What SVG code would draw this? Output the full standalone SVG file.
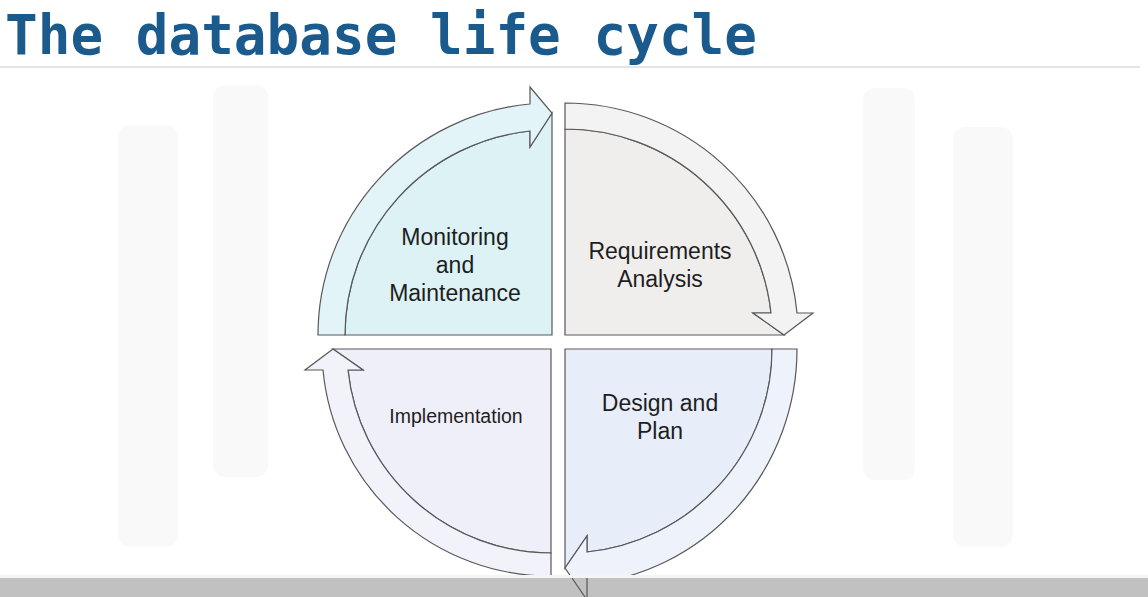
<svg xmlns="http://www.w3.org/2000/svg" width="1148" height="597" viewBox="0 0 1148 597">
  <style>
    .title { font-family: "DejaVu Sans Mono", "Liberation Mono", monospace; font-weight: bold; font-size: 55px; fill: #1b5a8c; }
    .lbl { font-family: "Liberation Sans", Arial, sans-serif; font-size: 23px; fill: #1e1e1e; text-anchor: middle; }
    .lbl-sm { font-size: 19.5px; }
    .edge { stroke: #585858; stroke-width: 1.2; stroke-linejoin: miter; }
    .wm { fill: #f9f9fa; }
  </style>

  <rect width="1148" height="597" fill="#ffffff"/>

  <!-- faint background emblem -->
  <g id="emblem">
    <rect class="wm" x="118" y="125" width="60" height="422" rx="12"/>
    <rect class="wm" x="213" y="85" width="55" height="392" rx="12"/>
    <rect class="wm" x="863" y="88" width="52" height="392" rx="12"/>
    <rect class="wm" x="953" y="127" width="60" height="420" rx="12"/>
  </g>

  <!-- heading -->
  <text class="title" x="5" y="54" textLength="752" lengthAdjust="spacingAndGlyphs">The database life cycle</text>
  <line x1="0" y1="67" x2="1140" y2="67" stroke="#e3e3ea" stroke-width="2"/>

  <!-- quadrant bodies -->
  <g id="monitoring">
    <path class="edge" fill="#dcf2f5" d="M345,335 A207,205 0 0 1 530,131 L530,147 L552,113 L552,335 Z"/>
    <text class="lbl" x="455" y="245">Monitoring</text>
    <text class="lbl" x="455" y="273">and</text>
    <text class="lbl" x="455" y="301">Maintenance</text>
  </g>

  <g id="requirements">
    <path class="edge" fill="#efeeed" d="M565,335 L565,129 A207,206 0 0 1 771,313 L753,313 L784,335 Z"/>
    <text class="lbl" x="660" y="259">Requirements</text>
    <text class="lbl" x="660" y="287">Analysis</text>
  </g>

  <g id="design">
    <path class="edge" fill="#e8eef9" d="M565,349 L772,349 A207,204 0 0 1 587,552 L587,536 L565,568 Z"/>
    <text class="lbl" x="660" y="411">Design and</text>
    <text class="lbl" x="660" y="439">Plan</text>
  </g>

  <g id="implementation">
    <path class="edge" fill="#efeff9" d="M551,349 L551,553 A204,204 0 0 1 348,370 L363,370 L333,349 Z"/>
    <text class="lbl lbl-sm" x="456" y="423">Implementation</text>
  </g>

  <!-- curved block arrows linking the phases -->
  <g id="connectors">
    <path class="edge" fill="#e2f4f7" d="M318,335 A234,232 0 0 1 530,104 L530,87 L552,113 L530,147 L530,131 A207,205 0 0 0 345,335 Z"/>
    <path class="edge" fill="#f3f3f3" d="M565,103 A233,232 0 0 1 797,313 L813,313 L784,335 L753,313 L771,313 A207,206 0 0 0 565,129 Z"/>
    <path class="edge" fill="#edf2fb" d="M797,349 A232,236 0 0 1 587,584 L587,600 L565,568 L587,536 L587,552 A207,204 0 0 0 772,349 Z"/>
    <path class="edge" fill="#f2f2fb" d="M551,576 A228,227 0 0 1 323,370 L305,370 L333,349 L363,370 L348,370 A204,204 0 0 0 551,553 Z"/>
  </g>

  <!-- footer band -->
  <rect x="0" y="575" width="1148" height="3" fill="#f4f4f4"/>
  <rect x="0" y="578" width="1148" height="19" fill="#c1c1c1"/>
  <path class="edge" fill="none" d="M572,578 L587,600 M587,578 L587,600"/>
</svg>
